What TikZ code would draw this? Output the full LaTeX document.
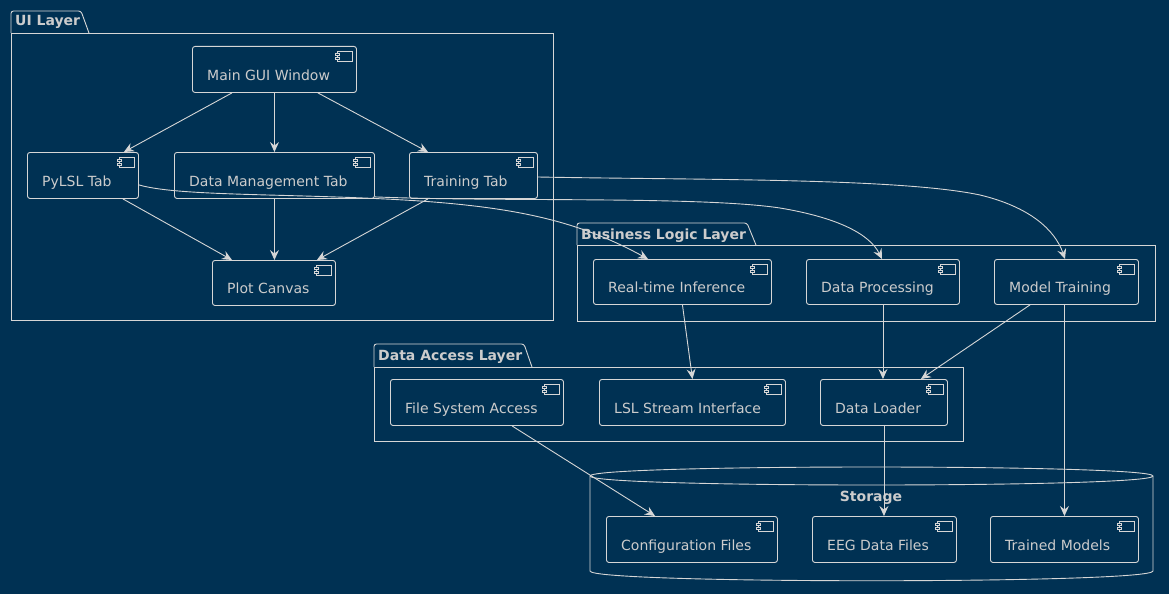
\documentclass[tikz,border=0pt]{standalone}
\usepackage{fontspec}
\setmainfont{DejaVu Sans}
\usetikzlibrary{calc,arrows.meta}
\definecolor{bg}{RGB}{0,49,83}
\definecolor{ln}{RGB}{214,214,214}
\definecolor{tx}{RGB}{204,204,204}
\tikzset{
  compbox/.style={draw=ln, line width=0.9pt, rounded corners=2.5pt, inner sep=0pt},
  comptext/.style={text=tx, font=\fontsize{14}{17}\selectfont, inner sep=0pt, anchor=base west},
  pkgline/.style={draw=ln, line width=0.9pt},
  pkgtitle/.style={text=tx, font=\fontsize{14}{17}\selectfont\bfseries, inner sep=0pt, anchor=base west},
  icon/.style={draw=ln, line width=0.8pt, fill=bg},
  arr/.style={draw=ln, line width=0.9pt, -{Stealth[length=10pt,width=9pt,inset=3.5pt]}},
}
% name, x1, y1, x2, y2, text
\newcommand\comp[6]{%
  \node[compbox, minimum width={#4-#2}, minimum height={#5-#3}, anchor=north west] (#1) at (#2,#3) {};
  \node[comptext] (#1-t) at ($(#1.west)+(15,11)$) {#6};
  \draw[icon] ($(#1.north east)+(-20,5)$) rectangle ++(15,10);
  \draw[icon] ($(#1.north east)+(-22,7)$) rectangle ++(4,2);
  \draw[icon] ($(#1.north east)+(-22,11)$) rectangle ++(4,2);
}
% package: left, tabtop, tabright, slantbottom, bodytop, right, bottom
\newcommand\pkg[7]{%
  \draw[pkgline, rounded corners=2.5pt] (#1,#5) -- (#1,#2) -- (#3,#2) -- (#4,#5);
  \draw[pkgline] (#1,#5) rectangle (#6,#7);
}
\begin{document}
\begin{tikzpicture}[x=1pt,y=-1pt]
\useasboundingbox (0,0) rectangle (1169,594);
\fill[bg] (0,0) rectangle (1169,594);

% packages
\pkg{11}{11}{81}{89}{33}{553}{320}
\node[pkgtitle] (uiT) at (15,26) {UI Layer};
\pkg{577}{223}{747}{756}{245}{1155}{321}
\node[pkgtitle] (blT) at (581,239) {Business Logic Layer};
\pkg{374}{344}{524}{532}{367}{963}{441}
\node[pkgtitle] (daT) at (378,360) {Data Access Layer};

% storage (database)
\draw[pkgline] (590,476) .. controls (590,464) and (1153,464) .. (1153,476)
  -- (1153,571) .. controls (1153,584) and (590,584) .. (590,571) -- cycle;
\draw[pkgline] (590,476) .. controls (590,488) and (1153,488) .. (1153,476);
\node[text=tx, font=\fontsize{14}{17}\selectfont\bfseries, inner sep=0pt, anchor=base] (stT) at (871,501) {Storage};

% components
\comp{main}{192}{46}{356}{92}{Main GUI Window}
\comp{pylsl}{27}{152}{138}{198}{PyLSL Tab}
\comp{dm}{174}{152}{374}{198}{Data Management Tab}
\comp{train}{409}{152}{537}{198}{Training Tab}
\comp{plot}{212}{260}{335}{305}{Plot Canvas}

\comp{rti}{593}{259}{771}{304}{Real-time Inference}
\comp{dp}{806}{259}{959}{304}{Data Processing}
\comp{mt}{994}{259}{1138}{304}{Model Training}

\comp{fsa}{390}{379}{563}{425}{File System Access}
\comp{lsl}{599}{379}{785}{425}{LSL Stream Interface}
\comp{dl}{820}{379}{947}{425}{Data Loader}

\comp{cfg}{606}{516}{777}{562}{Configuration Files}
\comp{eeg}{812}{516}{956}{562}{EEG Data Files}
\comp{tm}{990}{516}{1138}{562}{Trained Models}

% edges
\draw[arr] ($(main.south west)+(40,0)$) -- ($(pylsl.north east)+(-15,0)$);
\draw[arr] (main.south) -- (dm.north);
\draw[arr] ($(main.south east)+(-39,0)$) -- ($(train.north west)+(19,0)$);
\draw[arr] ($(pylsl.south east)+(-16,0)$) -- ($(plot.north west)+(20,0)$);
\draw[arr] (dm.south) -- (dm.south |- plot.north);
\draw[arr] ($(train.south west)+(19,0)$) -- ($(plot.north east)+(-19,0)$);

\draw[arr] ($(pylsl.south east)+(0,-14)$) .. controls (180,197) and (300,193) .. (420,201)
  .. controls (520,208) and (580,222) .. ($(rti.north west)+(55,0)$);
\draw[arr] ($(dm.south east)+(0,-2)$) .. controls (500,202) and (700,196) .. (780,208)
  .. controls (840,218) and (870,235) .. ($(dp.north west)+(76,0)$);
\draw[arr] ($(train.north east)+(0,25)$) .. controls (700,180) and (900,178) .. (980,195)
  .. controls (1030,207) and (1055,230) .. ($(mt.north west)+(71,0)$);

\draw[arr] (rti.south) -- (lsl.north);
\draw[arr] (dp.south) -- (dp.south |- dl.north);
\draw[arr] ($(mt.south west)+(36,0)$) -- ($(dl.north east)+(-27,0)$);
\draw[arr] (tm.north |- mt.south) -- (tm.north);
\draw[arr] ($(fsa.south west)+(122,0)$) -- ($(cfg.north west)+(49,0)$);
\draw[arr] (dl.south) -- (dl.south |- eeg.north);
\end{tikzpicture}
\end{document}
